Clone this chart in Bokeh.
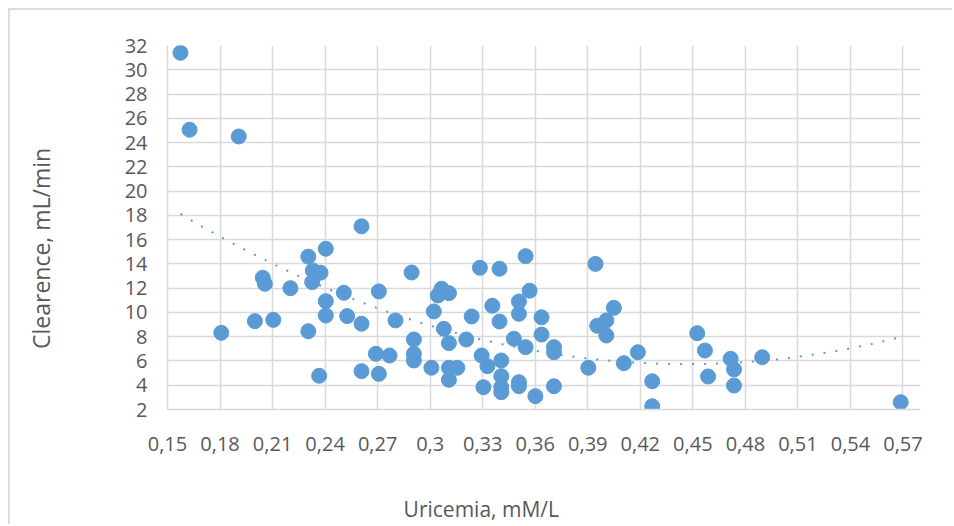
import numpy as np
from bokeh.plotting import figure
from bokeh.models import FixedTicker, Range1d
from bokeh.embed import file_html
from bokeh.resources import INLINE

# ---- data ----
uricemia = [0.1574, 0.1626, 0.1907, 0.2608, 0.2304, 0.2404, 0.2044, 0.2056, 0.2330, 0.2374,
            0.2326, 0.2202, 0.2404, 0.2507, 0.2707, 0.2404, 0.2526, 0.2608, 0.2802, 0.1999,
            0.2104, 0.1807, 0.2304, 0.2690, 0.2768, 0.2608, 0.2707, 0.2366, 0.2894, 0.3065,
            0.3107, 0.3044, 0.3021, 0.3237, 0.3078, 0.3107, 0.3206, 0.2907, 0.2907, 0.2907,
            0.3007, 0.3107, 0.3155, 0.3107, 0.3284, 0.3396, 0.3545, 0.3568, 0.3355, 0.3507,
            0.3507, 0.3396, 0.3636, 0.3636, 0.3478, 0.3545, 0.3707, 0.3707, 0.3294, 0.3327,
            0.3406, 0.3406, 0.3304, 0.3406, 0.3406, 0.3507, 0.3507, 0.3601, 0.3707, 0.3944,
            0.4049, 0.3954, 0.4006, 0.4006, 0.3903, 0.4106, 0.4186, 0.4268, 0.4268, 0.4525,
            0.4569, 0.4587, 0.4716, 0.4735, 0.4735, 0.4896, 0.5687]
clearence = [31.4, 25.06, 24.5, 17.1, 14.6, 15.25, 12.86, 12.36, 13.46, 13.27,
             12.5, 12.0, 10.93, 11.62, 11.73, 9.75, 9.7, 9.07, 9.34, 9.28,
             9.39, 8.32, 8.45, 6.59, 6.45, 5.16, 4.94, 4.78, 13.29, 11.95,
             11.59, 11.4, 10.08, 9.67, 8.65, 7.47, 7.77, 7.77, 6.59, 6.04,
             5.44, 5.44, 5.44, 4.45, 13.68, 13.6, 14.64, 11.79, 10.55, 10.9,
             9.89, 9.25, 9.6, 8.18, 7.83, 7.14, 7.14, 6.72, 6.45, 5.57,
             6.04, 4.75, 3.84, 3.84, 3.43, 4.25, 3.92, 3.1, 3.92, 14.0,
             10.38, 8.9, 9.34, 8.1, 5.44, 5.82, 6.72, 4.33, 2.27, 8.29,
             6.86, 4.72, 6.18, 5.3, 3.98, 6.31, 2.6]

x_ticks = [0.15, 0.18, 0.21, 0.24, 0.27, 0.3, 0.33, 0.36, 0.39, 0.42, 0.45, 0.48, 0.51, 0.54, 0.57]
x_tick_labels = ["0,15", "0,18", "0,21", "0,24", "0,27", "0,3", "0,33", "0,36", "0,39",
                 "0,42", "0,45", "0,48", "0,51", "0,54", "0,57"]
y_ticks = [2, 4, 6, 8, 10, 12, 14, 16, 18, 20, 22, 24, 26, 28, 30, 32]

x_title = "Uricemia, mM/L"
y_title = "Clearence, mL/min"

# ---- styling ----
BLUE = "#5B9BD5"
GRID = "#d9d9d9"
TEXT = "#595959"
FONT = "Open Sans"
NBSP = "\u00a0"

W, H = 944, 516
p = figure(width=W, height=H, output_backend="svg", toolbar_location=None,
           x_range=Range1d(0.15, 0.58), y_range=Range1d(2, 32),
           min_border_left=157, min_border_right=34, min_border_top=35, min_border_bottom=117)
p.styles = {"margin-left": "8px", "margin-top": "8px",
            "border-top": "2px solid #dcdcdc", "border-left": "2px solid #dcdcdc"}
p.outline_line_color = None
p.background_fill_color = "white"
p.border_fill_color = "white"

p.xaxis.ticker = FixedTicker(ticks=x_ticks)
p.yaxis.ticker = FixedTicker(ticks=y_ticks)
p.xaxis.major_label_overrides = {t: l for t, l in zip(x_ticks, x_tick_labels)}
for ax in (p.xaxis, p.yaxis):
    ax.axis_line_color = GRID
    ax.axis_line_width = 1.5
    ax.major_tick_out = 0
    ax.major_tick_in = 0
    ax.minor_tick_out = 0
    ax.minor_tick_in = 0
    ax.major_tick_line_color = None
    ax.minor_tick_line_color = None
    ax.major_label_text_color = TEXT
    ax.major_label_text_font = FONT
    ax.major_label_text_font_size = "20px"
    ax.axis_label_text_color = TEXT
    ax.axis_label_text_font = FONT
    ax.axis_label_text_font_style = "normal"
p.yaxis.major_label_standoff = 20
p.xaxis.major_label_standoff = 27

# axis titles; trailing no-break spaces move them off the frame centre as in the original
p.yaxis.axis_label = y_title + NBSP * 7
p.yaxis.axis_label_text_font_size = "23px"
p.yaxis.axis_label_standoff = 65
p.xaxis.axis_label = x_title + NBSP * 23
p.xaxis.axis_label_text_font_size = "21px"
p.xaxis.axis_label_standoff = 41

p.xgrid.grid_line_color = GRID
p.ygrid.grid_line_color = GRID
p.xgrid.grid_line_width = 1.5
p.ygrid.grid_line_width = 1.5

p.scatter(uricemia, clearence, size=15, marker="circle", fill_color=BLUE, line_color=BLUE)

# polynomial (order 2) trendline, as in the original spreadsheet chart
coef = np.polyfit(uricemia, clearence, 2)
xs = np.linspace(min(uricemia), max(uricemia), 200)
p.line(xs, np.polyval(coef, xs), line_color=BLUE, line_width=2, line_dash="2 10")

open("out.html", "w").write(file_html(p, INLINE))
